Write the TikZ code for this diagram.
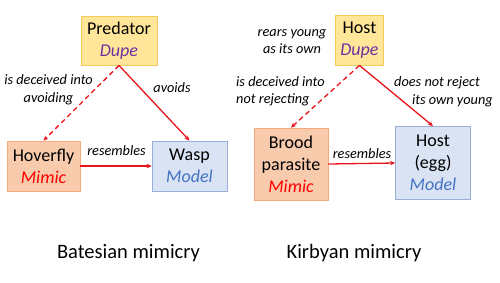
\documentclass[tikz,border=0pt]{standalone}
\usepackage{fontspec}
\setmainfont{Carlito}
\usetikzlibrary{arrows.meta}
\definecolor{dupefill}{HTML}{FFE699}
\definecolor{dupeline}{HTML}{F2CC5A}
\definecolor{dupetxt}{HTML}{7030A0}
\definecolor{mimfill}{HTML}{F8CBAD}
\definecolor{mimline}{HTML}{F4A982}
\definecolor{modfill}{HTML}{DAE3F3}
\definecolor{modline}{HTML}{9BB0D8}
\definecolor{modtxt}{HTML}{4472C4}
\definecolor{arr}{HTML}{E8141B}
\tikzset{
  box/.style={draw, line width=0.8pt, align=center, inner sep=0pt,
    font=\fontsize{18}{22}\selectfont},
  dupebox/.style={box, fill=dupefill, draw=dupeline},
  mimbox/.style={box, fill=mimfill, draw=mimline},
  modbox/.style={box, fill=modfill, draw=modline},
  lbl/.style={font=\fontsize{14.3}{17.5}\selectfont\itshape, align=center, inner sep=0pt},
  ttl/.style={font=\fontsize{20.5}{24}\selectfont, inner sep=0pt},
  link/.style={draw=arr, line width=1.3pt, -{Stealth[length=5pt,width=4.5pt]}},
  dlink/.style={link, dash pattern=on 5pt off 3.5pt},
}
\newcommand{\dupe}{\textcolor{dupetxt}{\itshape Dupe}}
\newcommand{\mimicw}{\textcolor{red}{\itshape Mimic}}
\newcommand{\modelw}{\textcolor{modtxt}{\itshape Model}}
\begin{document}
\begin{tikzpicture}[x=1pt,y=-1pt]
\useasboundingbox (0,0) rectangle (500,282);
% Batesian
\node[dupebox, minimum width=76pt, minimum height=49pt] (pred) at (119,40.5) {Predator\\\dupe};
\node[mimbox, minimum width=73pt, minimum height=50pt] (hov) at (43.5,166) {Hoverfly\\\mimicw};
\node[modbox, minimum width=75pt, minimum height=50pt] (wasp) at (189.5,166) {Wasp\\\modelw};
\draw[dlink] (pred.south) -- (hov.north);
\draw[link] (pred.south) -- (wasp.north);
\draw[link] (hov.east) -- (wasp.west);
\node[lbl] (l1) at (48.5,90) {is deceived into\\avoiding};
\node[lbl] (l2) at (172,88) {avoids};
\node[lbl] (l3) at (116.5,151) {resembles};
\node[ttl] (t1) at (128.5,253) {Batesian mimicry};
% Kirbyan
\node[dupebox, minimum width=48pt, minimum height=50pt] (host) at (359.5,40) {Host\\\dupe};
\node[mimbox, minimum width=74pt, minimum height=72pt] (brood) at (291,164) {Brood\\parasite\\\mimicw};
\node[modbox, minimum width=75pt, minimum height=73pt] (egg) at (433,163) {Host\\(egg)\\\modelw};
\draw[dlink] (host.south) -- (brood.north);
\draw[link] (host.south) -- (egg.north);
\draw[link] (brood.east) -- (egg.west);
\node[lbl] (k0) at (292,41.5) {rears young\\as its own};
\node[lbl, align=left, anchor=west] (k1) at (236,91.5) {is deceived into\\not rejecting};
\node[lbl, anchor=west] (k2a) at (394,83) {does not reject};
\node[lbl, anchor=east] (k2b) at (493,100.5) {its own young};
\node[lbl] (k3) at (362,154) {resembles};
\node[ttl] (t2) at (354,253) {Kirbyan mimicry};
\end{tikzpicture}
\end{document}
